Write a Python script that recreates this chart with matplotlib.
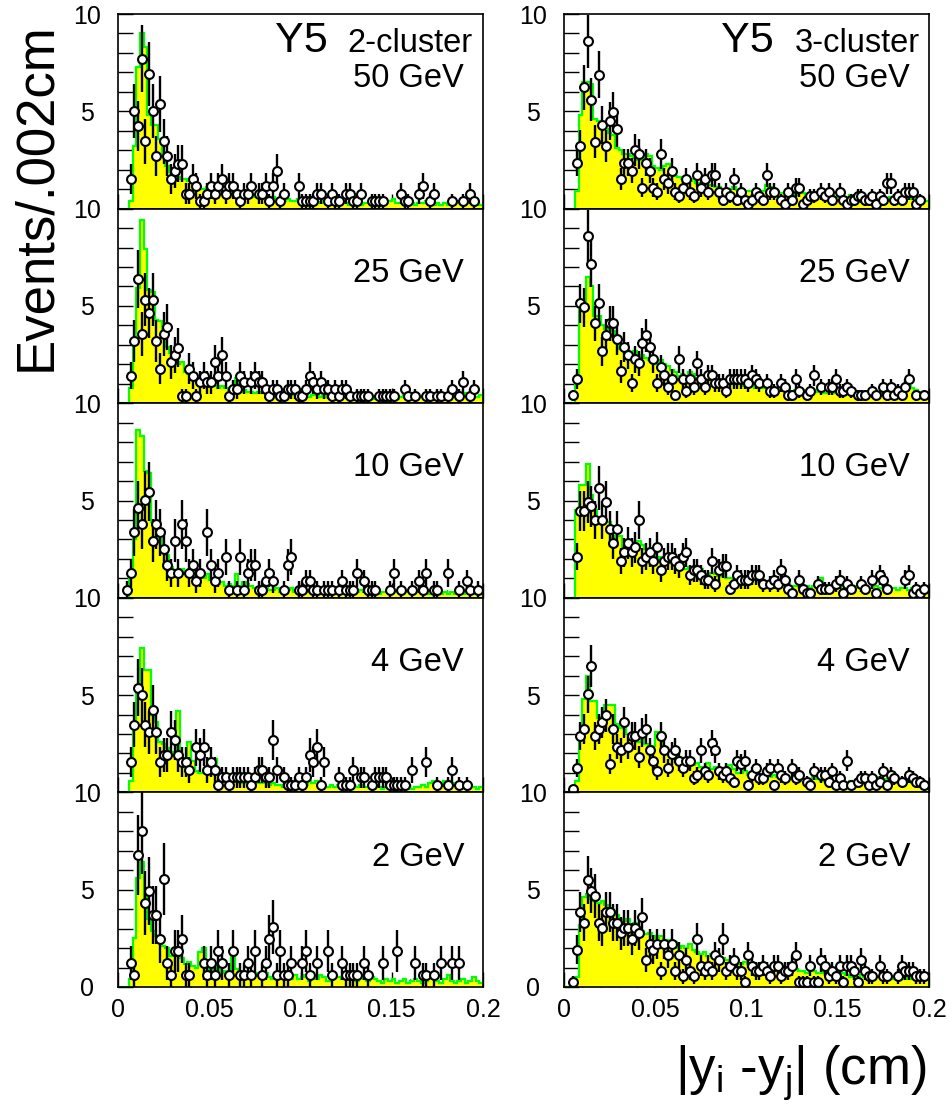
import numpy as np
import matplotlib
matplotlib.use('Agg')
import matplotlib.pyplot as plt

plt.rcParams['font.family'] = ['Liberation Sans', 'DejaVu Sans']
plt.rcParams['mathtext.fontset'] = 'custom'
plt.rcParams['mathtext.rm'] = 'Liberation Sans'
plt.rcParams['mathtext.it'] = 'Liberation Sans'
plt.rcParams['mathtext.default'] = 'regular'

# 100 bins of 0.002 cm between 0 and 0.2
edges = np.linspace(0, 0.2, 101)
energies = ['50 GeV', '25 GeV', '10 GeV', '4 GeV', '2 GeV']

# ---- 2-cluster (left column): MC histograms ----
mc_2cl_50 = [0, 0, 0, 0.4, 3.2, 7.3, 9.0, 8.3, 4.8, 4.3,
             4.3, 3.6, 2.8, 2.2, 1.9, 1.8, 1.6, 1.5, 1.5, 1.4,
             1.3, 1.2, 1.0, 1.0, 1.1, 0.9, 1.0, 0.9, 0.9, 0.8,
             0.9, 0.8, 0.8, 0.7, 0.8, 0.7, 0.7, 0.6, 0.7, 0.6,
             0.6, 0.5, 0.6, 0.5, 0.5, 0.4, 0.5, 0.4, 0.4, 0.5,
             0.5, 0.4, 0.3, 0.4, 0.3, 0.3, 0.4, 0.3, 0.3, 0.3,
             0.4, 0.3, 0.3, 0.2, 0.3, 0.3, 0.2, 0.3, 0.3, 0.2,
             0.3, 0.2, 0.3, 0.3, 0.4, 0.5, 0.3, 0.3, 0.2, 0.3,
             0.3, 0.2, 0.3, 0.3, 0.4, 0.3, 0.2, 0.3, 0.2, 0.3,
             0.2, 0.3, 0.4, 0.3, 0.2, 0.3, 0.3, 0.2, 0.3, 0.2]
mc_2cl_25 = [0, 0, 0, 0.8, 3.2, 5.9, 9.4, 7.9, 5.8, 5.7,
             4.3, 4.2, 3.5, 2.9, 2.6, 2.2, 2.0, 2.1, 1.6, 1.5,
             1.2, 1.2, 1.1, 1.0, 1.0, 1.1, 0.9, 0.8, 0.9, 0.8,
             0.7, 0.8, 1.3, 0.6, 0.7, 0.6, 0.6, 0.5, 0.6, 0.5,
             0.5, 0.6, 0.5, 0.4, 0.5, 0.4, 0.5, 0.4, 0.4, 0.5,
             0.4, 0.4, 0.3, 0.4, 0.4, 0.3, 0.4, 0.3, 0.3, 0.4,
             0.3, 0.3, 0.4, 0.3, 0.4, 0.3, 0.3, 0.2, 0.3, 0.3,
             0.2, 0.3, 0.3, 0.2, 0.3, 0.3, 0.2, 0.3, 0.4, 0.3,
             0.3, 0.2, 0.3, 0.3, 0.2, 0.3, 0.4, 0.3, 0.3, 0.2,
             0.3, 0.4, 0.3, 0.3, 0.4, 0.5, 0.4, 0.3, 0.3, 0.4]
mc_2cl_10 = [0, 0, 0, 1.2, 3.0, 8.6, 8.3, 6.5, 6.4, 3.9,
             3.8, 3.0, 2.6, 2.2, 1.6, 1.4, 1.3, 1.5, 1.2, 1.2,
             1.1, 1.3, 1.0, 1.0, 1.2, 0.9, 0.8, 0.7, 0.8, 0.6,
             0.7, 0.6, 1.2, 0.6, 0.8, 0.7, 0.6, 0.5, 0.5, 0.4,
             0.5, 0.4, 0.4, 0.5, 0.3, 0.4, 0.4, 0.5, 0.3, 0.4,
             0.3, 0.4, 0.3, 0.3, 0.4, 0.3, 0.3, 0.4, 0.3, 0.3,
             0.4, 0.3, 0.3, 0.2, 0.3, 0.3, 0.4, 0.3, 0.2, 0.3,
             0.3, 0.2, 0.3, 0.3, 0.2, 0.3, 0.3, 0.2, 0.3, 0.3,
             0.2, 0.3, 0.3, 0.2, 0.3, 0.2, 0.3, 0.3, 0.2, 0.3,
             0.2, 0.3, 0.2, 0.3, 0.2, 0.3, 0.3, 0.2, 0.2, 0.3]
mc_2cl_4 = [0, 0, 0, 0.6, 3.4, 5.3, 7.4, 6.3, 6.3, 4.0,
            3.6, 2.6, 2.5, 2.3, 2.1, 2.0, 4.2, 1.7, 1.4, 2.6,
            1.6, 1.1, 1.0, 1.0, 1.1, 1.7, 1.7, 0.9, 0.7, 0.6,
            0.7, 0.6, 0.6, 0.5, 0.6, 0.5, 0.5, 0.6, 0.5, 0.5,
            0.5, 0.4, 0.5, 0.4, 0.4, 0.3, 0.4, 0.4, 0.3, 0.4,
            0.3, 0.4, 0.6, 0.5, 0.6, 0.4, 0.3, 0.3, 0.4, 0.3,
            0.4, 0.3, 0.3, 0.2, 0.3, 0.3, 0.4, 0.3, 0.3, 0.2,
            0.3, 0.3, 0.2, 0.3, 0.3, 0.2, 0.3, 0.2, 0.3, 0.3,
            0.2, 0.3, 0.3, 0.4, 0.3, 0.5, 0.6, 0.5, 0.4, 0.6,
            0.6, 0.5, 0.4, 0.3, 0.4, 0.3, 0.4, 0.3, 0.2, 0.3]
mc_2cl_2 = [0, 0, 0, 0.4, 2.5, 5.6, 6.4, 4.6, 3.5, 2.9,
            2.6, 2.3, 2.1, 2.0, 1.6, 2.0, 1.8, 1.5, 1.2, 1.3,
            1.1, 1.0, 1.8, 2.0, 1.0, 0.8, 1.1, 0.9, 0.7, 0.8,
            0.7, 2.0, 0.9, 0.6, 0.7, 0.5, 0.6, 0.7, 0.6, 0.5,
            0.7, 0.5, 0.4, 0.6, 0.7, 0.5, 0.6, 0.4, 0.6, 0.4,
            0.5, 0.6, 0.3, 0.5, 0.4, 0.6, 0.5, 0.3, 0.4, 0.6,
            0.5, 0.4, 0.6, 0.5, 0.4, 0.3, 0.5, 0.4, 0.3, 0.5,
            0.4, 0.3, 0.2, 0.4, 0.3, 0.4, 0.2, 0.3, 0.4, 0.2,
            0.3, 0.4, 0.3, 0.2, 0.3, 0.5, 0.4, 0.3, 0.2, 0.4,
            0.6, 0.3, 0.2, 0.3, 0.4, 0.2, 0.3, 0.5, 0.3, 0.2]

# ---- 2-cluster: data counts per bin ----
n_2cl_50 = [0, 0, 0, 4, 13, 11, 20, 9, 18, 13,
            7, 14, 9, 7, 4, 5, 6, 6, 2, 2,
            4, 3, 1, 1, 2, 3, 2, 3, 4, 2,
            3, 3, 2, 1, 2, 2, 3, 0, 2, 2,
            3, 1, 3, 5, 1, 2, 0, 0, 0, 3,
            1, 1, 1, 1, 2, 2, 0, 1, 2, 1,
            1, 0, 2, 2, 1, 1, 2, 0, 0, 1,
            1, 1, 1, 0, 0, 0, 0, 2, 1, 1,
            0, 0, 2, 3, 0, 1, 2, 0, 0, 0,
            0, 1, 0, 0, 1, 0, 2, 1, 0, 0]
n_2cl_25 = [0, 0, 0, 4, 9, 18, 10, 15, 13, 15,
            9, 5, 10, 11, 6, 7, 8, 1, 1, 5,
            4, 1, 3, 4, 3, 3, 6, 4, 7, 4,
            1, 2, 2, 4, 3, 0, 3, 4, 3, 3,
            2, 1, 2, 2, 1, 1, 2, 2, 2, 1,
            1, 2, 4, 3, 2, 3, 2, 2, 1, 2,
            1, 2, 2, 1, 0, 1, 1, 1, 1, 0,
            0, 1, 1, 1, 1, 1, 0, 0, 2, 1,
            0, 1, 0, 0, 1, 1, 0, 1, 1, 0,
            1, 2, 0, 1, 3, 0, 1, 2, 0, 0]
n_2cl_10 = [0, 0, 1, 3, 8, 11, 9, 12, 13, 7,
            9, 8, 6, 4, 3, 7, 3, 9, 7, 3,
            4, 2, 3, 0, 8, 4, 2, 3, 0, 5,
            1, 0, 1, 5, 1, 3, 4, 4, 1, 1,
            2, 3, 2, 0, 0, 1, 4, 5, 0, 1,
            1, 2, 2, 1, 1, 0, 1, 1, 1, 0,
            1, 2, 1, 1, 1, 3, 0, 2, 1, 1,
            1, 0, 0, 0, 1, 3, 0, 1, 0, 0,
            1, 0, 2, 1, 3, 0, 1, 1, 0, 0,
            3, 0, 0, 1, 0, 2, 1, 0, 1, 0]
n_2cl_4 = [0, 0, 0, 4, 9, 14, 13, 9, 8, 11,
           8, 4, 5, 5, 8, 7, 5, 4, 4, 3,
           0, 6, 5, 6, 3, 4, 3, 1, 2, 2,
           1, 2, 2, 2, 2, 2, 1, 2, 3, 3,
           2, 2, 7, 3, 0, 2, 1, 1, 1, 2,
           1, 2, 5, 4, 6, 1, 4, 0, 0, 0,
           2, 1, 1, 1, 3, 0, 2, 2, 0, 1,
           2, 2, 2, 2, 1, 1, 1, 1, 1, 0,
           3, 0, 0, 0, 4, 0, 0, 1, 0, 0,
           1, 3, 0, 1, 0, 1, 0, 0, 0, 0]
n_2cl_2 = [0, 0, 0, 2, 1, 11, 13, 7, 8, 6,
           6, 4, 9, 2, 1, 3, 3, 4, 1, 1,
           0, 0, 0, 2, 1, 2, 1, 3, 2, 0,
           1, 3, 0, 1, 1, 2, 1, 3, 0, 1,
           2, 4, 5, 1, 3, 1, 1, 2, 0, 0,
           2, 3, 1, 0, 2, 0, 0, 3, 1, 0,
           0, 2, 1, 1, 1, 1, 0, 2, 1, 0,
           0, 0, 2, 0, 0, 0, 3, 0, 0, 0,
           0, 2, 0, 1, 1, 0, 1, 0, 2, 0,
           0, 2, 0, 2, 0, 0, 0, 0, 0, 0]

# ---- 3-cluster (right column): MC histograms ----
mc_3cl_50 = [0, 0, 0, 0.9, 4.8, 6.5, 6.5, 6.4, 4.6, 4.5,
             4.3, 4.1, 3.9, 3.8, 3.1, 3.0, 2.8, 2.8, 2.7, 2.6,
             2.5, 2.5, 2.8, 2.7, 2.2, 2.1, 2.0, 2.2, 2.3, 1.9,
             1.7, 1.6, 1.5, 1.5, 1.4, 1.5, 1.3, 1.3, 1.2, 1.2,
             1.2, 1.1, 1.1, 1.0, 1.0, 1.0, 1.1, 0.95, 1.0, 0.9,
             0.9, 0.9, 1.0, 0.9, 0.9, 1.2, 1.1, 1.0, 0.9, 0.8,
             0.8, 0.8, 0.9, 0.7, 0.8, 0.8, 0.7, 0.7, 0.8, 0.7,
             0.7, 0.6, 0.7, 0.7, 0.6, 0.7, 0.6, 0.6, 0.7, 0.6,
             0.6, 0.6, 0.5, 0.6, 0.6, 0.5, 0.6, 0.6, 0.5, 0.6,
             0.5, 0.6, 0.5, 0.5, 0.6, 0.5, 0.5, 0.4, 0.5, 0.4]
mc_3cl_25 = [0, 0, 0, 1.0, 4.8, 4.9, 6.5, 6.0, 4.5, 4.5,
             4.0, 3.8, 4.1, 3.7, 3.1, 2.8, 2.8, 2.7, 2.5, 2.7,
             2.2, 2.5, 2.3, 2.2, 2.3, 2.0, 2.2, 2.0, 1.9, 1.7,
             1.6, 1.4, 1.5, 1.4, 1.6, 1.5, 1.3, 1.4, 1.2, 1.2,
             1.2, 1.1, 1.1, 1.1, 1.0, 1.0, 1.1, 1.0, 1.0, 0.9,
             0.9, 0.9, 0.8, 0.9, 0.8, 0.8, 0.7, 0.8, 0.7, 0.7,
             0.8, 0.7, 0.6, 0.7, 0.6, 0.7, 0.6, 0.6, 0.7, 0.6,
             0.6, 0.5, 0.6, 0.6, 0.5, 0.6, 0.5, 0.5, 0.6, 0.4,
             0.4, 0.5, 0.4, 0.4, 0.5, 0.4, 0.5, 0.5, 0.6, 0.5,
             0.6, 0.6, 0.7, 0.8, 0.9, 0.8, 0.7, 0.6, 0.5, 0.5]
mc_3cl_10 = [0, 0, 0, 4.5, 5.8, 5.8, 6.9, 5.3, 4.5, 4.0,
             3.8, 3.9, 3.9, 3.1, 3.2, 3.2, 2.6, 2.5, 2.4, 2.6,
             2.9, 2.7, 2.5, 2.5, 2.2, 2.0, 2.1, 1.9, 1.8, 2.0,
             1.7, 1.6, 1.7, 1.5, 1.6, 1.4, 1.4, 1.5, 1.2, 1.2,
             1.3, 1.2, 1.1, 1.2, 1.0, 1.0, 1.0, 0.9, 1.0, 0.9,
             0.9, 1.0, 0.9, 0.8, 0.9, 0.8, 0.8, 0.9, 0.7, 0.8,
             0.7, 0.7, 0.6, 0.6, 0.7, 0.6, 0.6, 0.5, 0.6, 0.6,
             1.0, 0.6, 0.5, 0.6, 0.5, 0.5, 0.6, 0.5, 0.5, 0.6,
             0.5, 0.5, 0.6, 0.5, 0.5, 0.6, 0.5, 0.5, 0.4, 0.5,
             0.5, 0.4, 0.5, 0.5, 0.4, 0.5, 0.4, 0.4, 0.5, 0.4]
mc_3cl_4 = [0, 0, 0, 0.6, 2.8, 4.8, 6.0, 4.7, 4.7, 3.8,
            3.9, 4.5, 4.5, 4.5, 3.5, 3.3, 3.3, 3.0, 2.8, 2.9,
            2.6, 2.7, 2.5, 2.3, 2.4, 3.1, 3.1, 2.2, 2.0, 2.0,
            1.9, 1.8, 1.6, 1.6, 1.5, 1.4, 1.5, 1.3, 1.3, 1.5,
            1.2, 1.3, 1.1, 1.2, 1.1, 1.4, 1.2, 1.0, 1.0, 1.1,
            0.9, 1.0, 1.0, 0.9, 0.9, 1.0, 0.8, 0.9, 0.8, 0.8,
            0.8, 0.7, 0.8, 0.7, 0.6, 0.7, 0.7, 0.6, 0.8, 0.7,
            0.6, 0.7, 0.6, 0.6, 0.5, 0.6, 0.5, 0.5, 0.6, 0.5,
            0.6, 0.6, 0.7, 0.8, 0.7, 0.8, 0.7, 0.6, 0.7, 0.6,
            0.7, 0.6, 0.6, 0.5, 0.6, 0.5, 0.4, 0.3, 0.2, 0.2]
mc_3cl_2 = [0, 0, 0, 0.5, 3.2, 4.6, 4.8, 4.5, 4.4, 4.3,
            4.4, 4.2, 3.8, 3.9, 3.7, 3.5, 3.4, 3.5, 3.2, 3.3,
            3.1, 2.9, 2.7, 2.8, 2.6, 2.5, 2.6, 2.3, 2.4, 2.2,
            2.3, 2.0, 2.1, 2.0, 2.2, 1.9, 1.8, 1.7, 1.8, 1.6,
            1.7, 1.5, 1.6, 1.5, 1.4, 1.4, 1.3, 1.4, 1.2, 1.3,
            1.2, 1.1, 1.2, 1.0, 1.1, 1.1, 0.9, 1.0, 1.0, 0.9,
            1.0, 0.9, 0.8, 0.9, 0.8, 0.8, 0.7, 1.2, 0.8, 0.7,
            0.7, 0.8, 0.6, 0.7, 0.6, 0.6, 0.7, 0.6, 0.5, 0.6,
            0.5, 0.6, 0.5, 0.5, 0.6, 0.5, 0.5, 0.4, 0.5, 0.5,
            0.4, 0.5, 0.5, 0.4, 0.5, 0.4, 0.5, 0.4, 0.5, 0.4]

# ---- 3-cluster: data counts per bin ----
n_3cl_50 = [0, 0, 0, 11, 15, 29, 40, 26, 16, 32,
            20, 15, 21, 23, 19, 7, 11, 11, 9, 14,
            13, 5, 11, 9, 5, 4, 13, 7, 6, 9,
            4, 3, 5, 7, 4, 3, 8, 5, 7, 4,
            8, 8, 4, 2, 4, 3, 7, 2, 4, 2,
            1, 2, 4, 3, 2, 8, 4, 4, 0, 2,
            1, 4, 2, 5, 5, 1, 2, 3, 3, 0,
            4, 3, 4, 2, 0, 4, 2, 1, 2, 2,
            3, 3, 2, 2, 3, 1, 3, 2, 6, 6,
            2, 3, 2, 4, 4, 4, 1, 2, 0, 0]
n_3cl_25 = [0, 0, 2, 6, 25, 24, 42, 35, 20, 25,
            13, 17, 20, 20, 16, 8, 14, 12, 5, 11,
            10, 15, 17, 14, 11, 5, 9, 7, 4, 6,
            2, 11, 6, 3, 6, 4, 10, 6, 4, 7,
            7, 5, 5, 5, 3, 6, 6, 6, 6, 6,
            5, 7, 6, 5, 0, 5, 3, 3, 0, 5,
            4, 2, 2, 6, 3, 0, 2, 3, 7, 0,
            4, 0, 4, 4, 6, 3, 3, 4, 3, 0,
            2, 2, 2, 0, 3, 2, 0, 4, 2, 4,
            2, 3, 2, 4, 6, 0, 2, 0, 2, 0]
n_3cl_10 = [0, 0, 0, 9, 19, 19, 21, 20, 17, 24,
            17, 21, 15, 12, 15, 8, 10, 12, 10, 11,
            17, 8, 9, 10, 8, 11, 6, 8, 9, 9,
            8, 7, 9, 10, 5, 6, 6, 5, 4, 4,
            8, 3, 6, 7, 7, 2, 3, 5, 4, 4,
            4, 5, 5, 5, 3, 0, 3, 4, 3, 6,
            4, 2, 1, 0, 4, 2, 1, 1, 0, 3,
            2, 2, 2, 0, 3, 4, 1, 3, 2, 0,
            0, 3, 2, 0, 4, 1, 5, 4, 2, 0,
            0, 0, 0, 4, 5, 1, 2, 1, 2, 0]
n_3cl_4 = [0, 0, 1, 7, 16, 18, 28, 36, 16, 18,
           20, 22, 8, 18, 13, 12, 20, 13, 16, 16,
           10, 17, 18, 12, 9, 6, 16, 12, 7, 11,
           12, 9, 7, 9, 9, 4, 5, 12, 6, 5,
           14, 12, 6, 5, 6, 4, 3, 9, 8, 9,
           2, 5, 7, 4, 4, 6, 7, 2, 7, 5,
           4, 0, 7, 4, 5, 0, 3, 2, 6, 0,
           5, 5, 3, 6, 2, 4, 2, 9, 2, 0,
           3, 4, 4, 2, 4, 2, 3, 6, 2, 5,
           4, 0, 3, 0, 5, 4, 3, 3, 2, 0]
n_3cl_2 = [0, 0, 1, 7, 14, 12, 20, 18, 17, 12,
           11, 14, 14, 12, 12, 10, 11, 11, 9, 11,
           10, 13, 5, 8, 7, 8, 3, 8, 6, 8,
           3, 6, 2, 5, 3, 2, 9, 4, 3, 4,
           3, 6, 5, 9, 3, 4, 5, 3, 3, 1,
           6, 4, 3, 3, 4, 3, 2, 4, 4, 2,
           3, 3, 4, 6, 1, 1, 1, 4, 1, 1,
           5, 4, 2, 3, 2, 4, 1, 4, 4, 3,
           1, 5, 3, 2, 2, 0, 4, 2, 2, 0,
           0, 2, 4, 3, 3, 3, 2, 2, 2, 0]

# events per count (normalisation of data to MC), one per panel
scale_2cl = [0.385, 0.355, 0.42, 0.385, 0.617]
scale_3cl = [0.215, 0.205, 0.235, 0.18, 0.275]

columns = [
    ('2-cluster', [mc_2cl_50, mc_2cl_25, mc_2cl_10, mc_2cl_4, mc_2cl_2],
     [n_2cl_50, n_2cl_25, n_2cl_10, n_2cl_4, n_2cl_2], scale_2cl),
    ('3-cluster', [mc_3cl_50, mc_3cl_25, mc_3cl_10, mc_3cl_4, mc_3cl_2],
     [n_3cl_50, n_3cl_25, n_3cl_10, n_3cl_4, n_3cl_2], scale_3cl),
]

W, H = 952, 1112
fig = plt.figure(figsize=(W / 100, H / 100), dpi=100)

col_left = [118, 564]
pw = 365
top0, ph = 14, 194.6
centers = 0.5 * (edges[:-1] + edges[1:])

for c, (clname, mcs, counts, scales) in enumerate(columns):
    for r in range(5):
        y0 = top0 + (r + 1) * ph
        ax = fig.add_axes([col_left[c] / W, 1 - y0 / H, pw / W, ph / H])
        mc = np.array(mcs[r])
        ax.stairs(mc, edges, fill=True, color='#ffff00', lw=0, zorder=1)
        ax.stairs(mc, edges, color='#00ff00', lw=1.6, baseline=0, zorder=1.5)

        n = np.array(counts[r], dtype=float)
        m = n > 0
        yv = n[m] * scales[r]
        ye = np.sqrt(n[m]) * scales[r]
        ax.errorbar(centers[m], yv, yerr=ye, fmt='o', ms=6.4, mfc='white', mec='black',
                    mew=1.5, ecolor='black', elinewidth=1.7, capsize=0, zorder=3)

        ax.set_xlim(0, 0.2)
        ax.set_ylim(0, 10)
        ax.set_axisbelow(True)
        ax.set_yticks(range(11))
        labs = [''] * 11
        labs[5] = '5'
        labs[10] = '10'
        if r == 4:
            labs[0] = '0'
        ax.set_yticklabels(labs, ha='center')
        ax.tick_params(axis='y', direction='in', length=11, width=1.0, pad=22,
                       labelsize=18)
        ax.set_xticks([0, 0.05, 0.1, 0.15, 0.2])
        ax.set_xticks(np.arange(0, 0.2001, 0.01), minor=True)
        ax.tick_params(axis='x', which='major', direction='in', length=11, width=1.0,
                       labelsize=18, pad=8)
        ax.tick_params(axis='x', which='minor', direction='in', length=6, width=1.0)
        if r == 4:
            ax.set_xticklabels(['0', '0.05', '0.1', '0.15', '0.2'])
        else:
            ax.set_xticklabels([])
        for sp in ax.spines.values():
            sp.set_linewidth(1.2)

        ax.text(0.948, 0.624, energies[r], transform=ax.transAxes, ha='right',
                va='baseline', fontsize=23.5)
        if r == 0:
            ax.text(0.975 if c else 0.97, 0.804, clname, transform=ax.transAxes,
                    ha='right', va='baseline', fontsize=23.5)
            ax.text(0.43, 0.804, 'Y5', transform=ax.transAxes, ha='left',
                    va='baseline', fontsize=31)

fig.text(36 / W, 1 - 197 / H, 'Events/.002cm', rotation=90, ha='center',
         va='center', fontsize=38)
fig.text(926 / W, 1 - 1085 / H, '$|y_i$ -$y_j|$ (cm)', ha='right', va='baseline',
         fontsize=38)

fig.savefig('out.png', dpi=100)
